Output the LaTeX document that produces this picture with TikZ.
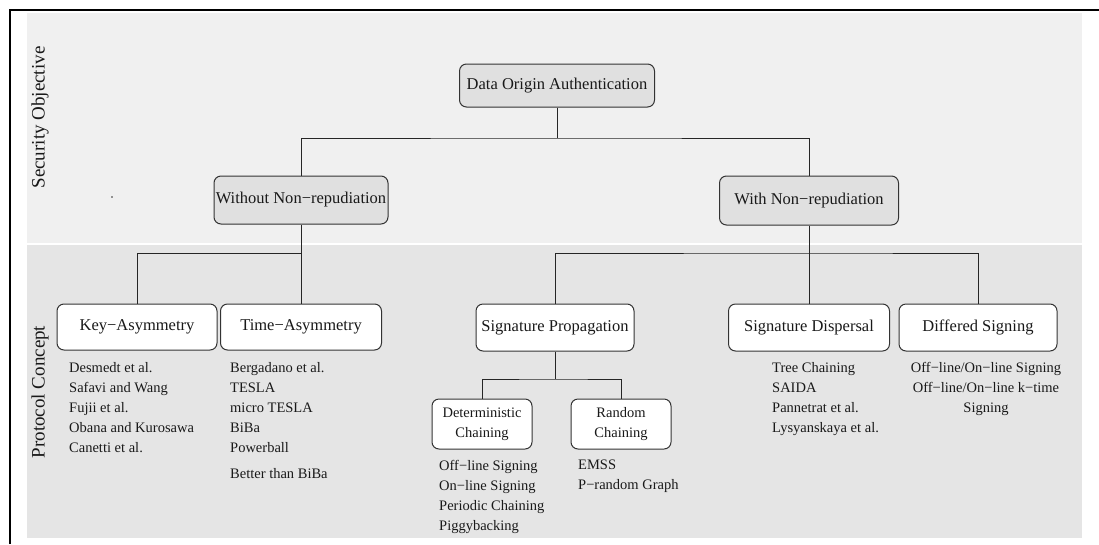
\documentclass[tikz,border=0pt]{standalone}
\usepackage{fontspec}
\setmainfont{Liberation Serif}
\begin{document}
\begin{tikzpicture}[x=1pt,y=-1pt,
  line/.style={draw=black!85,line width=1pt},
  graybox/.style={draw=black!80,line width=1pt,rounded corners=7pt,fill=black!12,
    inner sep=0pt,font=\fontsize{16.5}{19}\selectfont,text=black!90},
  whitebox/.style={draw=black!80,line width=1pt,rounded corners=7pt,fill=white,
    inner sep=0pt,font=\fontsize{16.5}{19}\selectfont,text=black!90},
  subbox/.style={whitebox,font=\fontsize{14.5}{20}\selectfont,align=center},
  itemlist/.style={inner sep=0pt,anchor=north west,align=left,
    font=\fontsize{14.5}{20}\selectfont,text=black!90},
  sidelabel/.style={rotate=90,inner sep=0pt,font=\fontsize{19}{22}\selectfont,text=black!90}]
\useasboundingbox (0,0) rectangle (1099,544);

% background bands
\fill[black!6] (27,13) rectangle (1082,243);
\fill[black!10] (27,245) rectangle (1082,538);

% frame
\draw[black,line width=2.5pt] (10,544) -- (10,10) -- (1099,10);

% side labels
\node[sidelabel] (so) at (40,117.5) {Security Objective};
\node[sidelabel] (pc) at (40,392) {Protocol Concept};
\fill[black!80] (112,197) circle (0.8);

% security objective level
\node[graybox,minimum width=195,minimum height=43] (doa) at (557,85.5) {Data Origin Authentication};
\node[graybox,minimum width=174,minimum height=48] (wo) at (301,200) {Without Non−repudiation};
\node[graybox,minimum width=179,minimum height=49] (wi) at (809,200.5) {With Non−repudiation};

% protocol concept level
\node[whitebox,minimum width=160,minimum height=46] (key) at (137,327) {Key−Asymmetry};
\node[whitebox,minimum width=161,minimum height=46] (time) at (301,327) {Time−Asymmetry};
\node[whitebox,minimum width=158,minimum height=47] (sp) at (555,327.5) {Signature Propagation};
\node[whitebox,minimum width=161,minimum height=47] (sd) at (809,327.5) {Signature Dispersal};
\node[whitebox,minimum width=158,minimum height=47] (ds) at (978,327.5) {Differed Signing};
\node[subbox,minimum width=100,minimum height=50] (det) at (482,424) {Deterministic\\Chaining};
\node[subbox,minimum width=100,minimum height=50] (rnd) at (621,424) {Random\\Chaining};

% junctions
\coordinate (j1) at (557,138);
\coordinate (j2) at (301,253);
\coordinate (j3) at (809,253);
\coordinate (j4) at (555,379);

% connectors
\draw[line] (doa.south) -- (j1);
\draw[line] (wo.north) |- (j1) -| (wi.north);
\draw[line] (wo.south) -- (time.north);
\draw[line] (key.north) |- (j2);
\draw[line] (wi.south) -- (sd.north);
\draw[line] (sp.north) |- (j3) -| (ds.north);
\draw[line] (sp.south) -- (j4);
\draw[line] (det.north) |- (j4) -| (rnd.north);

% protocol lists
\node[itemlist] (lkey) at (69,362) {Desmedt et al.\\Safavi and Wang\\Fujii et al.\\Obana and Kurosawa\\Canetti et al.};
\node[itemlist] (ltime) at (230,362) {Bergadano et al.\\TESLA\\micro TESLA\\BiBa\\Powerball\\[6pt]Better than BiBa};
\node[itemlist] (ldet) at (439,460) {Off−line Signing\\On−line Signing\\Periodic Chaining\\Piggybacking};
\node[itemlist] (lrnd) at (578,460) {EMSS\\P−random Graph};
\node[itemlist] (lsd) at (772,362) {Tree Chaining\\SAIDA\\Pannetrat et al.\\Lysyanskaya et al.};
\node[itemlist,anchor=north,align=center] (lds) at (986,362) {Off−line/On−line Signing\\Off−line/On−line k−time\\Signing};
\end{tikzpicture}
\end{document}
